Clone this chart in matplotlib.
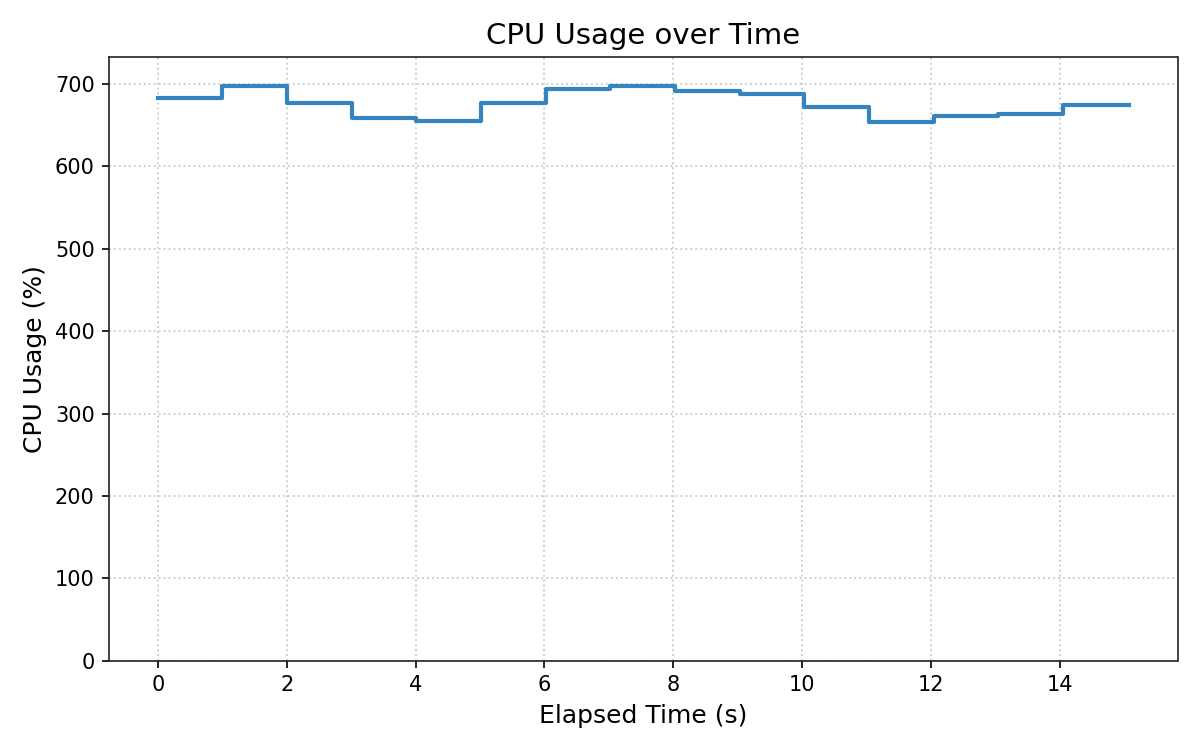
import numpy as np
from matplotlib import pyplot as plt

# elapsed time (s) of each sample and the CPU usage read at that sample
elapsed_s = [0.0, 1.00, 2.01, 3.01, 4.01, 5.02, 6.02, 7.02,
             8.03, 9.03, 10.03, 11.04, 12.04, 13.04, 14.05, 15.07]
cpu_pct = [683.3, 698.0, 677.0, 658.8, 655.1, 677.0, 693.9, 697.2,
           691.8, 687.4, 672.2, 653.9, 660.8, 663.3, 674.7, 674.7]


def main():
    fig, ax = plt.subplots(figsize=(8, 5), dpi=150)

    ax.step(elapsed_s, cpu_pct, where="post", color="#3584bf", linewidth=2)

    ax.set_ylim(0, max(cpu_pct) * 1.05)
    ax.set_title("CPU Usage over Time", fontsize=14)
    ax.set_xlabel("Elapsed Time (s)", fontsize=12)
    ax.set_ylabel("CPU Usage (%)", fontsize=12)
    ax.grid(True, linestyle=":", color="#cccccc", linewidth=0.9)
    for sp in ax.spines.values():
        sp.set_color("#222222")

    fig.tight_layout()
    fig.savefig("out.png")


if '__main__' == __name__:
    main()
